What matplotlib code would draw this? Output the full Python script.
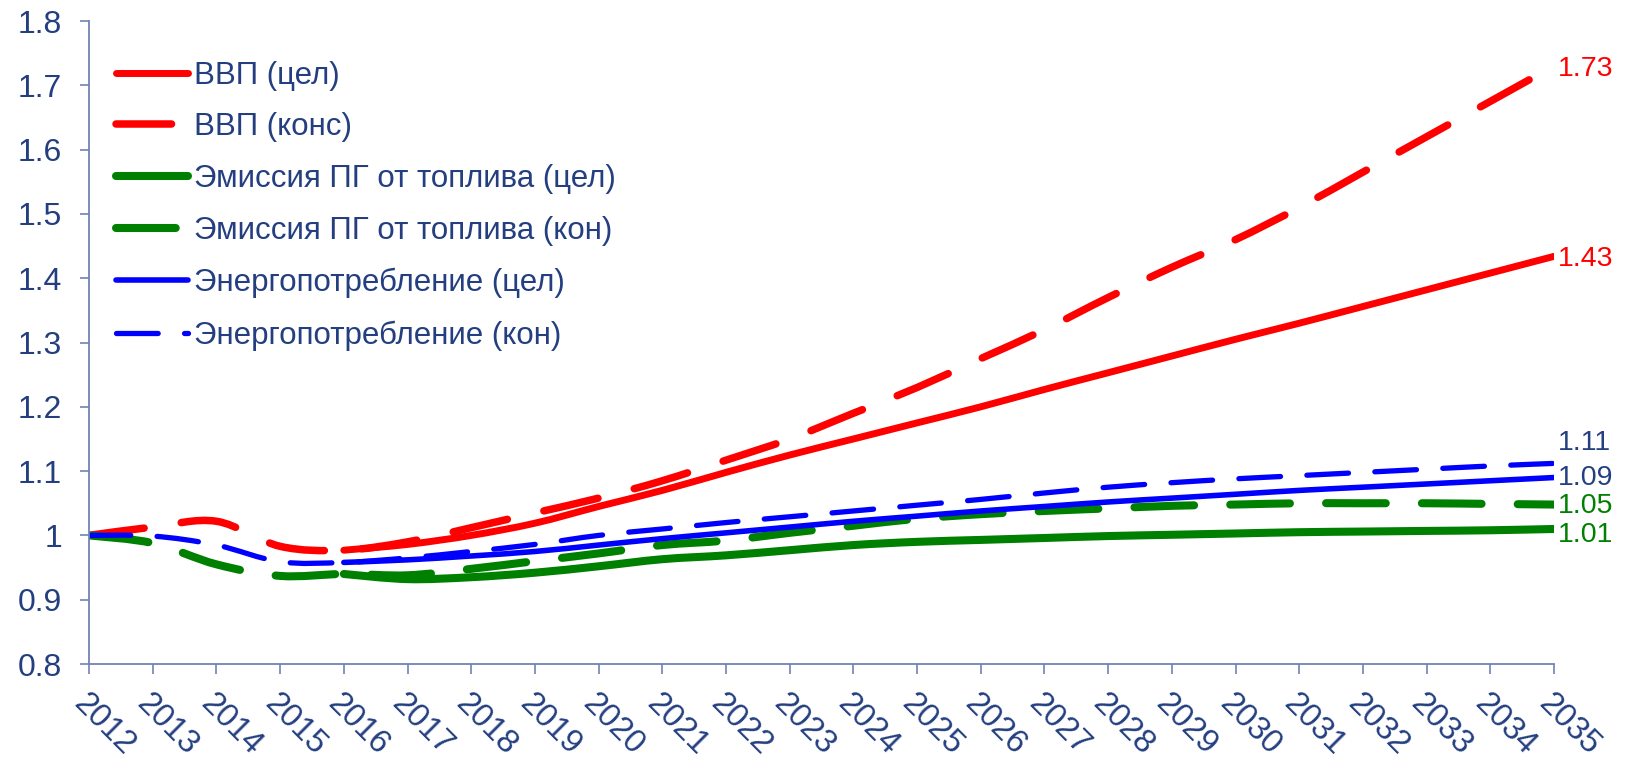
import numpy as np
import matplotlib
matplotlib.use("Agg")
import matplotlib.pyplot as plt
import matplotlib.transforms as mtransforms
from matplotlib.path import Path
from matplotlib.patches import PathPatch
from matplotlib.lines import Line2D

# data
years = list(range(2012, 2036))
gdp_target = [None, None, None, None, 0.977, 0.986, 1.0, 1.019, 1.045, 1.07, 1.098, 1.125,
              1.15, 1.175, 1.2, 1.227, 1.253, 1.279, 1.305, 1.33, 1.356, 1.382, 1.408, 1.434]
gdp_cons = [1.0, 1.013, 1.022, 0.983, 0.977, 0.99, 1.012, 1.035, 1.058, 1.085, 1.117, 1.15,
            1.19, 1.23, 1.275, 1.32, 1.37, 1.417, 1.46, 1.51, 1.565, 1.62, 1.675, 1.73]
ghg_target = [None, None, None, None, 0.94, 0.932, 0.935, 0.942, 0.952, 0.963, 0.969, 0.977,
              0.985, 0.99, 0.993, 0.996, 0.999, 1.001, 1.003, 1.005, 1.006, 1.007, 1.008, 1.01]
ghg_cons = [1.0, 0.988, 0.955, 0.937, 0.94, 0.938, 0.948, 0.96, 0.972, 0.985, 0.992, 1.004,
            1.015, 1.026, 1.033, 1.038, 1.042, 1.046, 1.048, 1.05, 1.05, 1.05, 1.049, 1.048]
energy_target = [None, None, None, None, 0.958, 0.962, 0.968, 0.975, 0.985, 0.995, 1.004, 1.013,
                 1.022, 1.03, 1.038, 1.045, 1.052, 1.058, 1.064, 1.07, 1.075, 1.08, 1.085, 1.09]
energy_cons = [1.0, 0.999, 0.985, 0.959, 0.958, 0.965, 0.975, 0.986, 1.0, 1.01, 1.02, 1.029,
               1.038, 1.047, 1.056, 1.066, 1.075, 1.082, 1.088, 1.093, 1.098, 1.103, 1.108, 1.112]

labels = ["ВВП (цел)", "ВВП (конс)", "Эмиссия ПГ от топлива (цел)",
          "Эмиссия ПГ от топлива (кон)", "Энергопотребление (цел)", "Энергопотребление (кон)"]
yticks = [0.8, 0.9, 1.0, 1.1, 1.2, 1.3, 1.4, 1.5, 1.6, 1.7, 1.8]
ytick_labels = ["0.8", "0.9", "1", "1.1", "1.2", "1.3", "1.4", "1.5", "1.6", "1.7", "1.8"]

NAVY = "#243F80"
AXIS = "#7282B4"


def smooth_path(x, y):
    # excel-like smoothed line: bezier through the points
    pts = [(a, b) for a, b in zip(x, y) if b is not None]
    p = np.array(pts, dtype=float)
    verts = [p[0]]
    codes = [Path.MOVETO]
    n = len(p)
    for i in range(n - 1):
        p0 = p[i - 1] if i > 0 else p[i]
        p3 = p[i + 2] if i + 2 < n else p[i + 1]
        c1 = p[i] + (p[i + 1] - p0) / 6.0
        c2 = p[i + 1] - (p3 - p[i]) / 6.0
        verts += [c1, c2, p[i + 1]]
        codes += [Path.CURVE4] * 3
    return Path(verts, codes)


def main():
    plt.rcParams["font.family"] = ["Liberation Sans", "DejaVu Sans"]
    plt.rcParams["lines.scale_dashes"] = False

    fig = plt.figure(figsize=(16.25, 7.62), dpi=100)
    ax = fig.add_axes([0.0548, 0.1286, 0.9015, 0.8438])

    series = [
        (gdp_target, "#FF0000", 5.0, "-"),
        (gdp_cons, "#FF0000", 5.4, (0, (40, 27))),
        (ghg_target, "#008000", 5.8, "-"),
        (ghg_cons, "#008000", 5.8, (0, (43, 26))),
        (energy_target, "#0000FF", 4.0, "-"),
        (energy_cons, "#0000FF", 3.8, (0, (30, 19))),
    ]

    handles = []
    for (vals, color, lw, ls), lab in zip(series, labels):
        patch = PathPatch(smooth_path(years, vals), fill=False, edgecolor=color,
                          linewidth=lw, linestyle=ls, capstyle="round", joinstyle="round")
        ax.add_patch(patch)
        handles.append(Line2D([], [], color=color, linewidth=lw, linestyle=ls,
                              solid_capstyle="round", dash_capstyle="round"))

    # values at the end of each line
    end_labels = [
        (gdp_cons, "#FF0000", -2),
        (gdp_target, "#FF0000", -2),
        (energy_cons, NAVY, 15),
        (energy_target, NAVY, 0),
        (ghg_cons, "#008000", -1),
        (ghg_target, "#008000", -4),
    ]
    for vals, color, dy in end_labels:
        ax.annotate(f"{vals[-1]:.2f}", xy=(years[-1], vals[-1]), xytext=(3, dy),
                    textcoords="offset points", ha="left", va="center",
                    fontsize=20.5, color=color, annotation_clip=False)

    ax.set_xlim(years[0], years[-1])
    ax.set_ylim(0.8, 1.8)
    ax.set_xticks(years)
    ax.set_xticklabels([str(y) for y in years], rotation=-45, ha="left", va="top",
                       rotation_mode="anchor", fontsize=23.5, color=NAVY)
    shift = mtransforms.ScaledTranslation(4 / 72, -1 / 72, fig.dpi_scale_trans)
    for t in ax.get_xticklabels():
        t.set_transform(t.get_transform() + shift)
    ax.set_yticks(yticks)
    ax.set_yticklabels(ytick_labels, fontsize=23, color=NAVY)
    ax.tick_params(axis="x", direction="out", length=7.5, width=1.2, color=AXIS, pad=10)
    ax.tick_params(axis="y", direction="out", length=6.5, width=1.2, color=AXIS, pad=13)
    for side in ["top", "right"]:
        ax.spines[side].set_visible(False)
    for side in ["left", "bottom"]:
        ax.spines[side].set_color(AXIS)
        ax.spines[side].set_linewidth(1.3)

    leg = ax.legend(handles, labels, loc="upper left", bbox_to_anchor=(0.0099, 0.958),
                    frameon=False, fontsize=22.5, handlelength=2.3, handletextpad=0.19,
                    labelspacing=0.70, borderaxespad=0)
    for t in leg.get_texts():
        t.set_color(NAVY)

    fig.savefig("out.png", dpi=100)


if __name__ == "__main__":
    main()
